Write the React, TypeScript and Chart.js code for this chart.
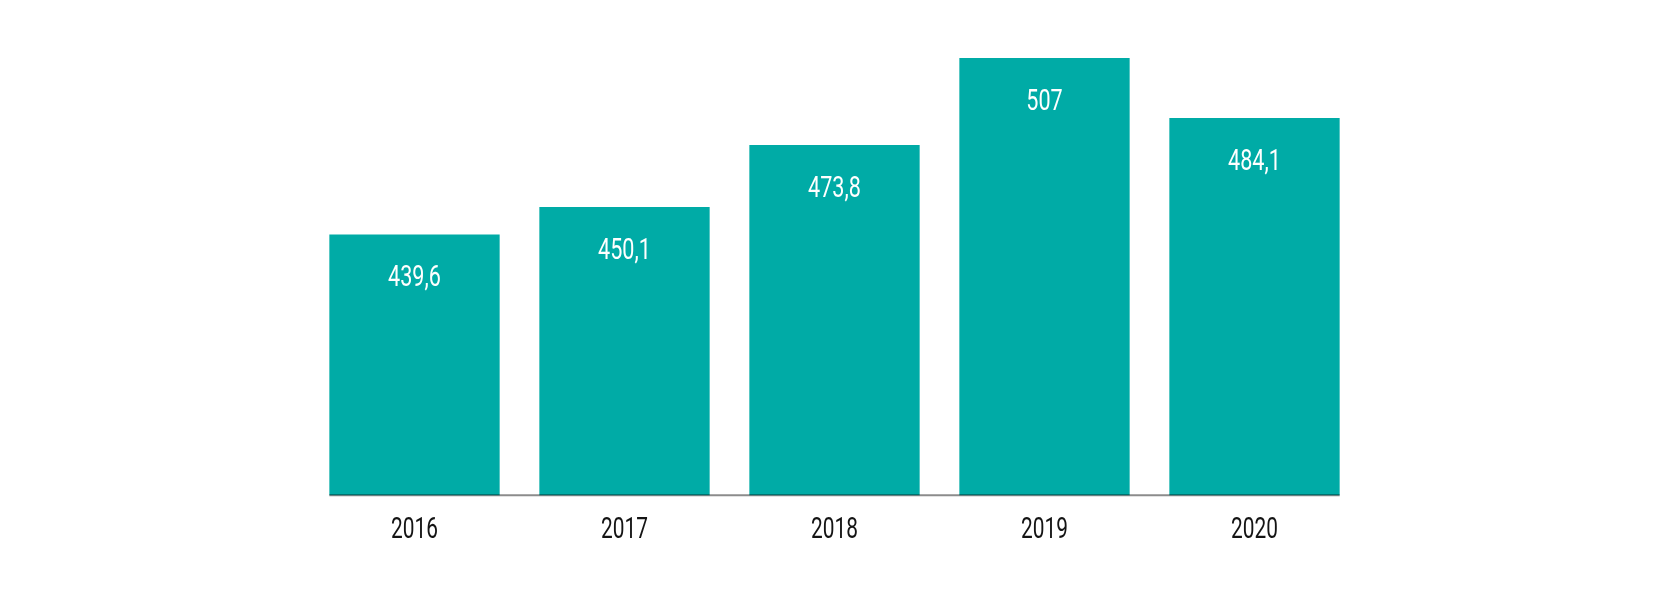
import React, { useEffect, useRef } from "react";
import { Chart, registerables } from "chart.js";

Chart.register(...registerables);

const years: string[] = ["2016", "2017", "2018", "2019", "2020"];
const values: number[] = [439.6, 450.1, 473.8, 507, 484.1];
const valueLabels: string[] = ["439,6", "450,1", "473,8", "507", "484,1"];

const BAR_COLOR = "#00aba6";
const FONT_FAMILY = "Roboto, 'DejaVu Sans Condensed', sans-serif";
const X_SQUEEZE = 0.72;

function drawCondensed(ctx: CanvasRenderingContext2D, text: string, x: number, y: number) {
  ctx.save();
  ctx.translate(x, y);
  ctx.scale(X_SQUEEZE, 1);
  ctx.fillText(text, 0, 0);
  ctx.restore();
}

const labelPlugin = {
  id: "labels",
  afterDatasetsDraw(chart: any) {
    const ctx = chart.ctx;
    const meta = chart.getDatasetMeta(0);
    ctx.save();
    // axis baseline spanning the bars
    const first = meta.data[0];
    const last = meta.data[meta.data.length - 1];
    const yb = chart.chartArea.bottom;
    ctx.strokeStyle = "rgba(0,0,0,0.45)";
    ctx.lineWidth = 2;
    ctx.beginPath();
    ctx.moveTo(first.x - first.width / 2, yb);
    ctx.lineTo(last.x + last.width / 2, yb);
    ctx.stroke();

    ctx.textAlign = "center";
    ctx.textBaseline = "alphabetic";
    ctx.font = `30px ${FONT_FAMILY}`;
    // value labels inside bars
    ctx.fillStyle = "#ffffff";
    meta.data.forEach((el: any, i: number) => {
      drawCondensed(ctx, valueLabels[i], el.x, el.y + 51.7);
    });
    // category labels under the axis
    const xScale = chart.scales.x;
    ctx.font = `29px ${FONT_FAMILY}`;
    ctx.fillStyle = "#141414";
    xScale.ticks.forEach((t: any, i: number) => {
      const lbl = xScale.getLabelForValue(t.value);
      drawCondensed(ctx, String(lbl), xScale.getPixelForTick(i), yb + 43);
    });
    ctx.restore();
  },
};

export default function App() {
  const canvasRef = useRef<HTMLCanvasElement | null>(null);

  useEffect(() => {
    if (!canvasRef.current) return;
    const chart = new Chart(canvasRef.current, {
      type: "bar",
      data: {
        labels: years,
        datasets: [
          {
            data: values,
            backgroundColor: BAR_COLOR,
            borderWidth: 0,
            categoryPercentage: 1,
            barPercentage: 0.811,
          },
        ],
      },
      options: {
        responsive: false,
        animation: false,
        devicePixelRatio: 1,
        layout: {
          padding: { left: 309.5, right: 307.5, top: 24, bottom: 44 },
        },
        plugins: {
          legend: { display: false },
          tooltip: { enabled: false },
          title: { display: false },
        },
        scales: {
          x: {
            grid: { display: false },
            border: { display: false },
            ticks: {
              color: "rgba(0,0,0,0)",
              padding: 11,
              font: { family: FONT_FAMILY, size: 29 },
            },
          },
          y: {
            display: false,
            min: 340,
            max: 520,
          },
        },
      },
      plugins: [labelPlugin],
    });
    return () => chart.destroy();
  }, []);

  return (
    <div style={{ position: "fixed", left: 0, top: 0, width: 1667, height: 604, background: "#fff" }}>
      <canvas ref={canvasRef} width={1667} height={604} style={{ display: "block" }} />
    </div>
  );
}
